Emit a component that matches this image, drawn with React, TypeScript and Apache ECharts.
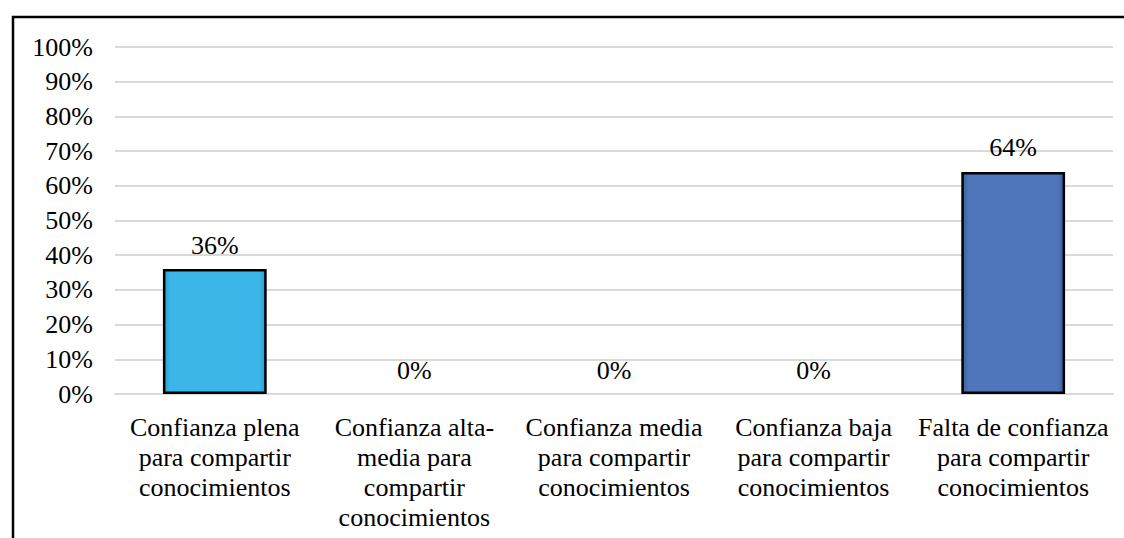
import React, { useEffect, useRef } from "react";
import * as echarts from "echarts";

const categories = [
  "Confianza plena\npara compartir\nconocimientos",
  "Confianza alta-\nmedia para\ncompartir\nconocimientos",
  "Confianza media\npara compartir\nconocimientos",
  "Confianza baja\npara compartir\nconocimientos",
  "Falta de confianza\npara compartir\nconocimientos",
];
const values = [36, 0, 0, 0, 64];
const barColors = ["#3CB6E9", "#3CB6E9", "#3CB6E9", "#3CB6E9", "#4F76BA"];
const yTicks = [0, 10, 20, 30, 40, 50, 60, 70, 80, 90, 100];

const FONT = "'Liberation Serif', 'Times New Roman', serif";

export default function App() {
  const ref = useRef<HTMLDivElement>(null);
  useEffect(() => {
    if (!ref.current) return;
    const chart = echarts.init(ref.current, undefined, { renderer: "svg" });
    chart.setOption({
      animation: false,
      backgroundColor: "#ffffff",
      grid: { left: 115, right: 11, top: 47, bottom: 144, containLabel: false },
      xAxis: {
        type: "category",
        data: categories,
        axisLine: { show: true, lineStyle: { color: "#d9d9d9", width: 2 } },
        axisTick: { show: false },
        axisLabel: {
          interval: 0,
          margin: 18,
          fontFamily: FONT,
          fontSize: 26,
          lineHeight: 30,
          color: "#000",
          align: "center",
        },
      },
      yAxis: {
        type: "value",
        min: yTicks[0],
        max: yTicks[yTicks.length - 1],
        interval: 10,
        axisLine: { show: false },
        axisTick: { show: false },
        splitLine: { lineStyle: { color: "#d9d9d9", width: 2 } },
        axisLabel: {
          margin: 22,
          fontFamily: FONT,
          fontSize: 26,
          color: "#000",
          formatter: (v: number) => `${v}%`,
        },
      },
      series: [
        {
          type: "bar",
          barWidth: "52%",
          data: values.map((v, i) => ({
            value: v,
            itemStyle: {
              color: {
                type: "linear",
                x: 0,
                y: 0,
                x2: 1,
                y2: 0,
                colorStops: [
                  { offset: 0, color: i === 4 ? "#3A5F9E" : "#2A9CCF" },
                  { offset: 0.06, color: barColors[i] },
                  { offset: 0.94, color: barColors[i] },
                  { offset: 1, color: i === 4 ? "#3A5F9E" : "#2A9CCF" },
                ],
              },
              borderColor: "#000",
              borderWidth: v === 0 ? 0 : 2.5,
            },
          })),
          label: {
            show: true,
            position: "top",
            distance: 11,
            fontFamily: FONT,
            fontSize: 26,
            color: "#000",
            formatter: (p: any) => `${p.value}%`,
          },
        },
      ],
      graphic: [
        {
          type: "rect",
          shape: { x: 13, y: 17, width: 1200, height: 600 },
          style: { fill: "none", stroke: "#000", lineWidth: 2.5 },
          silent: true,
        },
      ],
    });
    return () => chart.dispose();
  }, []);
  return (
    <div
      ref={ref}
      style={{ position: "fixed", left: 0, top: 0, width: 1124, height: 538 }}
    />
  );
}
